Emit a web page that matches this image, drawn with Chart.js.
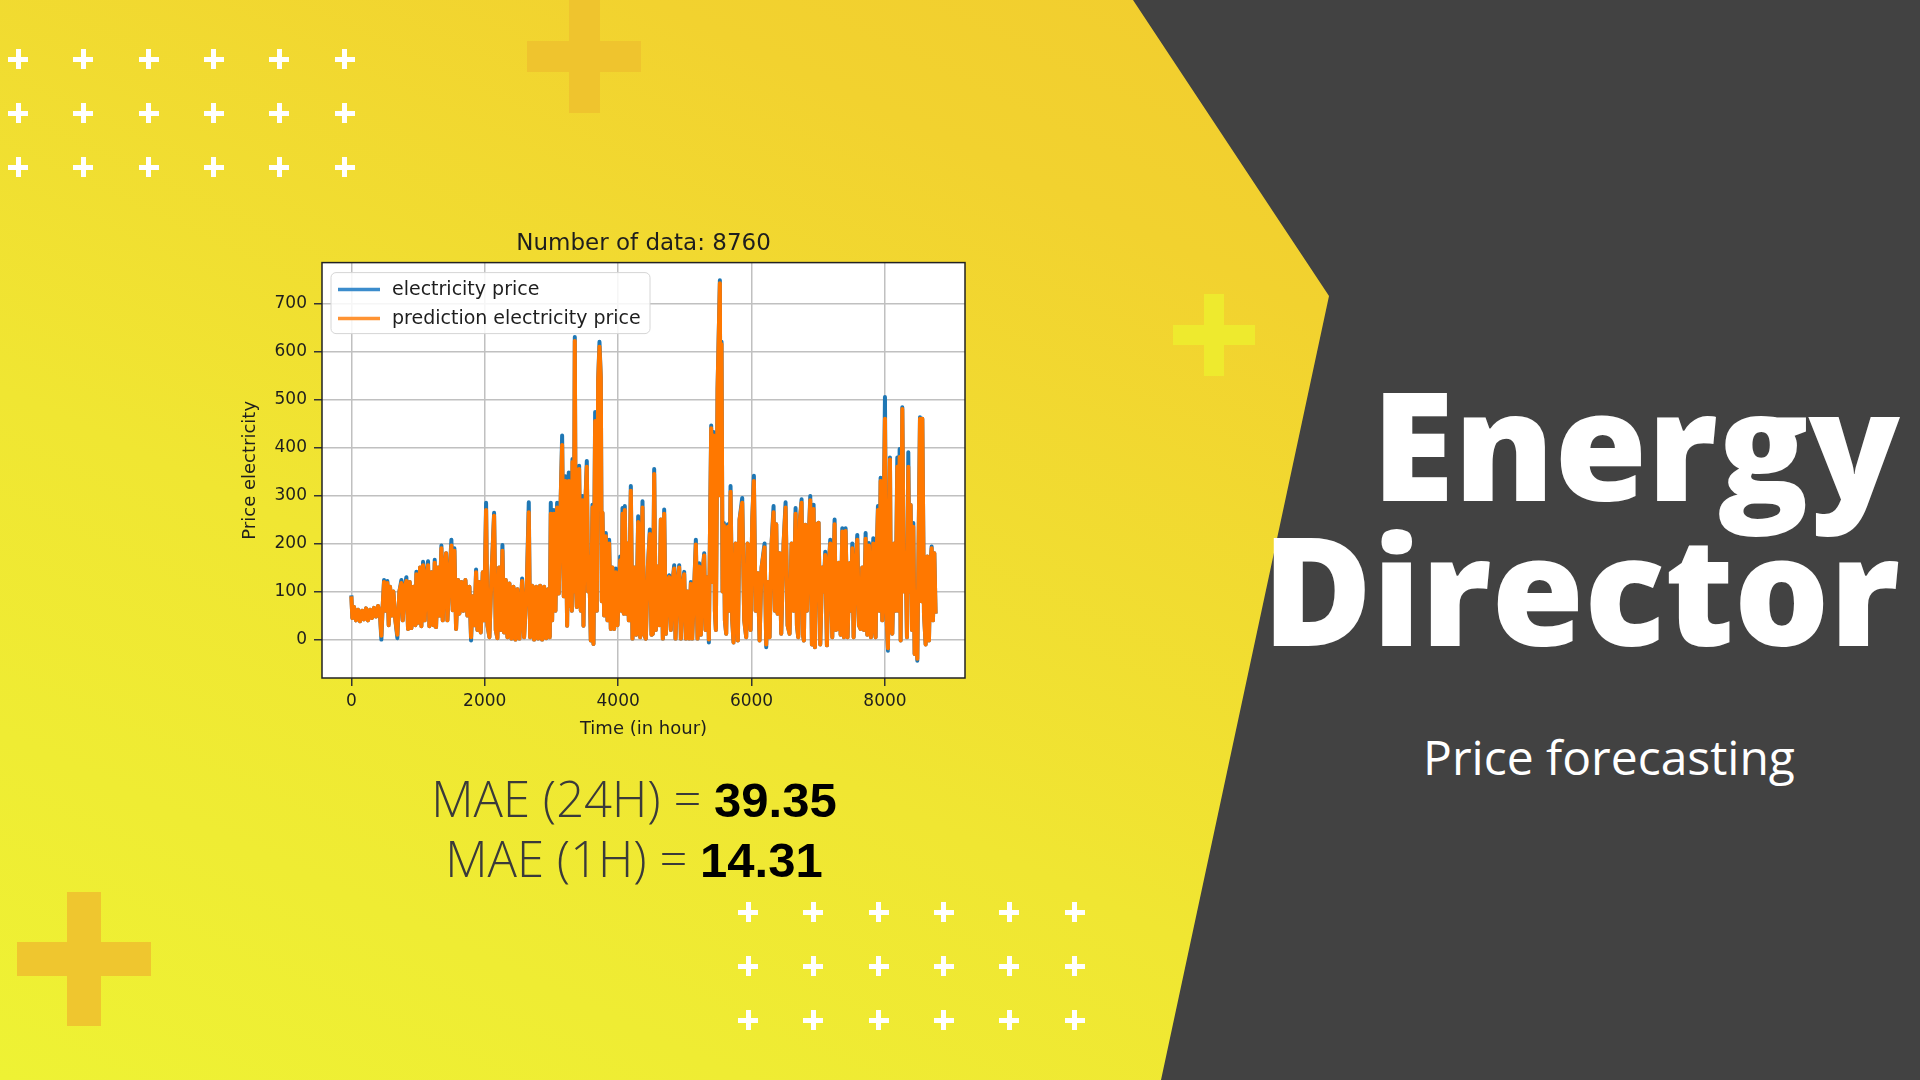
<!DOCTYPE html>
<html>
<head>
<meta charset="utf-8">
<title>Energy Director - Price forecasting</title>
<script src="https://cdn.jsdelivr.net/npm/chart.js@4.4.0/dist/chart.umd.min.js"></script>
<style>
  html, body { margin: 0; padding: 0; }
  body {
    width: 1920px; height: 1080px; overflow: hidden; position: relative;
    background: linear-gradient(25deg, #eef234 0%, #f0e632 35%, #f2d22f 70%, #f2c82e 100%);
    font-family: "Open Sans", sans-serif;
  }
  #dark {
    position: absolute; left: 0; top: 0; width: 1920px; height: 1080px;
    background: #424242;
    clip-path: polygon(1133px 0, 1920px 0, 1920px 1080px, 1161px 1080px, 1329px 296px);
  }
  .bar { position: absolute; }
  #chartBox { position: absolute; left: 230px; top: 220px; width: 827px; height: 520px; }
  #brand {
    position: absolute; right: 20px; top: 371px;
    color: #fff; font-family: "Open Sans", sans-serif; font-weight: 800;
    font-size: 150px; line-height: 145px; text-align: right; letter-spacing: 0px;
  }
  #sub {
    position: absolute; left: 1409px; top: 733px; width: 400px; text-align: center;
    color: #fff; font-size: 48px; line-height: 1;
  }
  #mae {
    position: absolute; left: 334px; top: 769px; width: 600px; text-align: center;
    color: #3a3a3a; font-family: "Open Sans", sans-serif; font-weight: 300;
    font-size: 49px; line-height: 58px;
  }
  #mae b { color: #000; font-family: "Liberation Sans", Arial, sans-serif; font-weight: 700; }
</style>
</head>
<body>
<div id="dark"></div>
<div id="decor"></div>
<div id="chartBox"><canvas id="priceChart"></canvas></div>
<div id="mae">MAE (24H) = <b>39.35</b><br>MAE (1H) = <b>14.31</b></div>
<div id="brand">Energy<br>Director</div>
<div id="sub">Price forecasting</div>
<script>
var hours = [
  0,15,40,70,100,130,160,190,220,250,280,310,340,370,400,430,
  450,470,490,510,540,560,580,610,630,660,690,720,750,770,800,825,
  850,875,900,930,960,975,1000,1030,1050,1075,1100,1120,1150,1170,1200,1230,
  1250,1270,1300,1320,1350,1370,1400,1420,1440,1470,1500,1520,1545,1570,1600,1620,
  1650,1680,1710,1740,1770,1795,1820,1845,1870,1890,1915,1940,1970,1990,2020,2040,
  2070,2100,2140,2165,2190,2215,2240,2265,2290,2315,2340,2370,2400,2430,2460,2490,
  2520,2560,2590,2630,2660,2680,2710,2740,2770,2800,2830,2860,2890,2920,2950,2975,
  2990,3010,3035,3060,3085,3110,3140,3160,3185,3210,3235,3260,3280,3295,3305,3315,
  3335,3350,3365,3380,3400,3415,3440,3465,3480,3500,3530,3550,3565,3590,3615,3630,
  3655,3680,3700,3720,3740,3755,3765,3790,3815,3840,3865,3890,3915,3940,3965,3990,
  4030,4050,4065,4085,4100,4120,4140,4160,4190,4215,4240,4270,4300,4330,4365,4390,
  4415,4445,4475,4500,4520,4540,4565,4590,4615,4640,4670,4690,4715,4740,4765,4790,
  4815,4840,4860,4890,4915,4940,4965,4990,5015,5040,5065,5090,5110,5140,5165,5190,
  5215,5240,5265,5290,5310,5340,5360,5375,5395,5410,5430,5450,5465,5490,5525,5535,
  5550,5565,5585,5600,5620,5645,5665,5685,5710,5730,5760,5795,5820,5860,5890,5920,
  5940,5960,5985,6010,6035,6060,6095,6120,6150,6195,6220,6245,6270,6300,6330,6350,
  6370,6390,6420,6445,6480,6510,6540,6570,6600,6630,6660,6680,6700,6725,6750,6770,
  6785,6805,6830,6855,6880,6905,6930,6950,6980,7005,7030,7060,7080,7105,7130,7155,
  7180,7210,7245,7265,7285,7310,7335,7360,7385,7410,7440,7470,7490,7510,7530,7560,
  7585,7610,7635,7660,7685,7710,7735,7760,7790,7825,7845,7860,7880,7895,7915,7935,
  7960,7985,8000,8020,8045,8075,8090,8110,8140,8160,8185,8200,8220,8235,8260,8285,
  8310,8330,8350,8370,8385,8405,8425,8445,8470,8485,8525,8545,8560,8585,8610,8635,
  8660,8680,8700,8720,8740,8759
];
var actualPrice = [
  92,45,68,40,62,38,60,42,65,40,62,45,66,48,70,50,
  0,70,124,60,122,30,110,50,100,40,3,100,124,40,110,130,
  22,120,24,110,30,141,35,150,28,162,40,130,163,28,140,30,
  166,26,150,50,196,40,150,180,40,130,208,61,190,22,124,54,
  120,60,124,50,110,-2,90,30,146,20,120,15,140,40,285,30,
  5,130,264,20,3,150,20,197,15,124,5,117,2,110,0,105,
  2,127,5,110,286,5,112,0,110,2,112,0,110,3,105,5,
  285,40,270,60,285,96,300,425,90,340,29,348,70,264,60,376,
  100,630,120,68,300,362,60,299,29,250,372,100,173,-2,281,-9,
  474,60,540,620,545,80,264,50,222,40,208,22,150,22,148,30,
  173,60,274,54,278,54,200,40,320,2,150,10,257,5,288,10,
  2,150,229,10,12,355,20,152,30,250,2,271,12,120,134,20,
  120,155,2,120,155,2,110,141,2,100,2,120,2,110,208,2,
  159,10,140,180,20,130,-6,200,446,120,432,60,20,520,748,300,
  620,100,243,40,12,240,60,320,40,-6,200,-2,250,295,40,5,
  200,190,20,250,341,60,138,-2,150,200,-16,120,5,200,278,60,
  240,54,180,12,200,286,30,12,200,60,274,30,5,250,292,10,
  -2,239,60,200,299,-10,281,-16,240,243,-10,150,100,183,-12,150,
  208,5,250,20,22,160,10,232,5,232,5,159,60,200,5,150,
  218,30,22,150,20,222,10,201,5,211,20,5,200,278,60,337,
  40,300,505,60,-23,379,40,12,200,60,379,60,397,-2,484,100,
  180,5,390,100,280,20,243,-30,100,-44,463,80,460,54,-10,173,
  -2,150,194,40,180,54
];
var predictedPrice = [
  90,45,68,40,62,38,60,42,65,40,62,45,66,48,70,50,
  8,70,120,60,118,30,110,50,100,40,10,100,118,40,110,122,
  22,120,24,110,30,136,35,150,28,155,40,130,155,28,140,30,
  160,26,150,50,190,40,150,180,40,130,196,61,185,22,124,54,
  120,60,124,50,110,5,90,30,140,20,120,15,140,40,270,30,
  5,130,258,20,3,150,20,185,15,124,5,117,2,110,0,105,
  2,122,5,110,265,5,112,0,110,2,112,0,110,3,105,5,
  262,40,262,60,275,96,300,405,90,330,29,330,70,264,60,370,
  100,622,120,68,300,355,60,290,29,250,360,100,173,-2,275,-9,
  455,60,540,610,545,80,264,50,215,40,200,22,150,22,140,30,
  165,60,262,54,270,54,200,40,310,2,150,10,245,5,275,10,
  2,150,220,10,12,345,20,152,30,250,2,262,12,120,130,20,
  120,148,2,120,150,2,110,136,2,100,2,116,2,110,198,2,
  152,10,140,175,20,130,0,200,440,120,425,60,20,520,742,300,
  615,100,238,40,12,235,60,308,40,-6,200,-2,250,285,40,5,
  200,190,20,250,330,60,138,-2,150,192,-10,120,5,200,265,60,
  240,54,180,12,200,275,30,12,200,60,262,30,5,250,285,10,
  -2,239,60,200,290,-10,272,-16,240,243,-10,150,100,176,-12,150,
  200,5,240,20,22,160,10,225,5,226,5,159,60,190,5,150,
  208,30,22,150,20,210,10,196,5,200,20,5,200,270,60,330,
  40,300,460,60,-18,375,40,12,200,60,360,60,380,-2,480,100,
  180,5,360,100,280,20,235,-30,100,-40,460,80,460,54,-10,173,
  -2,150,190,40,180,54
];
var xTicks = [0, 2000, 4000, 6000, 8000];
var yTicks = [0, 100, 200, 300, 400, 500, 600, 700];

// decorations: small white plus grids and the big yellow crosses
var decor = document.getElementById('decor');
function plus(cx, cy, size, thick, color) {
  var h = document.createElement('div');
  h.className = 'bar';
  h.style.cssText = 'left:' + (cx - size / 2) + 'px;top:' + (cy - thick / 2) + 'px;width:' + size + 'px;height:' + thick + 'px;background:' + color;
  var v = document.createElement('div');
  v.className = 'bar';
  v.style.cssText = 'left:' + (cx - thick / 2) + 'px;top:' + (cy - size / 2) + 'px;width:' + thick + 'px;height:' + size + 'px;background:' + color;
  decor.appendChild(h);
  decor.appendChild(v);
}
plus(584, 56, 114, 31, '#efc42e');
plus(84, 959, 134, 34, '#efc62f');
plus(1214, 335, 82, 20, '#eeea2e');
for (var r = 0; r < 3; r++) {
  for (var c = 0; c < 6; c++) {
    plus(18 + c * 65.3, 59 + r * 54, 20, 5, '#ffffff');
    plus(748 + c * 65.3, 912 + r * 54, 20, 5, '#ffffff');
  }
}

var txt = '#1e1e1e';
var mplFont = 'DejaVu Sans';
var lineW = 4;

// white axes background, black frame and matplotlib-like legend box
var axesFrame = {
  id: 'axesFrame',
  beforeDraw: function (chart) {
    var a = chart.chartArea, ctx = chart.ctx;
    ctx.save();
    ctx.fillStyle = '#ffffff';
    ctx.fillRect(a.left, a.top, a.right - a.left, a.bottom - a.top);
    ctx.restore();
  },
  afterDraw: function (chart) {
    var a = chart.chartArea, ctx = chart.ctx;
    ctx.save();
    ctx.strokeStyle = '#222';
    ctx.lineWidth = 1.5;
    ctx.strokeRect(a.left, a.top, a.right - a.left, a.bottom - a.top);

    var bx = a.left + 9, by = a.top + 10, bw = 319, bh = 61;
    ctx.beginPath();
    ctx.roundRect(bx, by, bw, bh, 5);
    ctx.fillStyle = 'rgba(255,255,255,0.85)';
    ctx.fill();
    ctx.strokeStyle = '#d6d6d6';
    ctx.lineWidth = 1;
    ctx.stroke();

    ctx.font = '19px "' + mplFont + '"';
    ctx.textBaseline = 'middle';
    chart.data.datasets.forEach(function (ds, i) {
      var y = by + 17 + i * 29;
      ctx.beginPath();
      ctx.moveTo(bx + 7, y);
      ctx.lineTo(bx + 49, y);
      ctx.strokeStyle = i === 0 ? '#3b8ccc' : '#ff9333';
      ctx.lineWidth = 3.5;
      ctx.stroke();
      ctx.fillStyle = txt;
      ctx.fillText(ds.label, bx + 61, y);
    });
    ctx.restore();
  }
};

function points(vals) {
  return hours.map(function (h, i) { return { x: h, y: vals[i] }; });
}

var priceChart = new Chart(document.getElementById('priceChart').getContext('2d'), {
  type: 'line',
  data: {
    datasets: [{
      label: 'electricity price',
      data: points(actualPrice),
      borderColor: '#1f77b4',
      borderWidth: lineW,
      borderJoinStyle: 'round',
      pointRadius: 0,
      tension: 0,
      fill: false,
      order: 1
    },
    {
      label: 'prediction electricity price',
      data: points(predictedPrice),
      borderColor: '#ff7800',
      borderWidth: lineW,
      borderJoinStyle: 'round',
      pointRadius: 0,
      tension: 0,
      fill: false,
      order: 0
    }]
  },
  options: {
    responsive: true,
    maintainAspectRatio: false,
    animation: false,
    layout: { padding: { left: 0, right: 92, top: 0, bottom: 0 } },
    plugins: {
      legend: { display: false },
      tooltip: { enabled: false },
      title: {
        display: true,
        fullSize: false,
        text: 'Number of data: 8760',
        color: txt,
        font: { family: mplFont, size: 23, weight: 'normal' },
        padding: { top: 10, bottom: 5 }
      }
    },
    scales: {
      x: {
        type: 'linear',
        min: -440,
        max: 9200,
        afterBuildTicks: function (s) { s.ticks = xTicks.map(function (v) { return { value: v }; }); },
        afterFit: function (s) { s.height = 62; },
        ticks: {
          color: txt,
          font: { family: mplFont, size: 17 },
          padding: 5,
          maxRotation: 0,
          callback: function (v) { return String(v); }
        },
        grid: { color: '#c0c0c0', lineWidth: 1.5, tickLength: 8, tickColor: '#333' },
        border: { display: false },
        title: {
          display: true,
          text: 'Time (in hour)',
          color: txt,
          font: { family: mplFont, size: 18 },
          padding: { top: 4, bottom: 0 }
        }
      },
      y: {
        min: -80,
        max: 785,
        afterBuildTicks: function (s) { s.ticks = yTicks.map(function (v) { return { value: v }; }); },
        afterFit: function (s) { s.width = 92; },
        ticks: {
          color: txt,
          font: { family: mplFont, size: 17 },
          padding: 7,
          callback: function (v) { return String(v); }
        },
        grid: { color: '#c0c0c0', lineWidth: 1.5, tickLength: 8, tickColor: '#333' },
        border: { display: false },
        title: {
          display: true,
          text: 'Price electricity',
          color: txt,
          font: { family: mplFont, size: 18 },
          padding: { top: 10, bottom: 0 }
        }
      }
    }
  },
  plugins: [axesFrame]
});
</script>
</body>
</html>
